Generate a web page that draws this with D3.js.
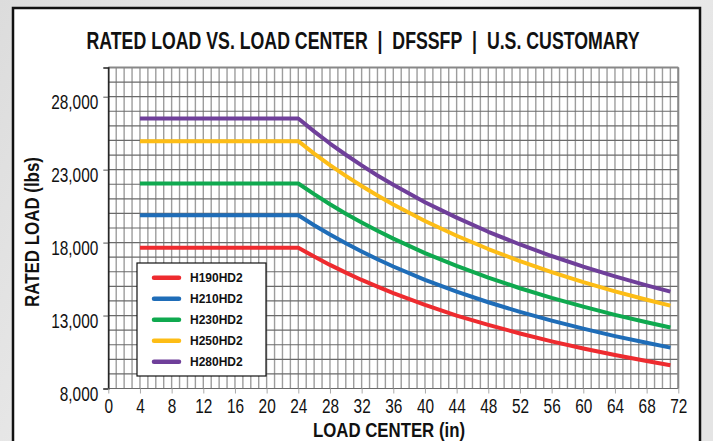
<!DOCTYPE html>
<html>
<head>
<meta charset="utf-8">
<script src="https://cdn.jsdelivr.net/npm/d3@7"></script>
<style>
	body { margin: 0; background: #fff; }
	svg { display: block; }
</style>
</head>
<body>
<div id="chart"></div>
<script>
// load center points (in)
var loadCenter = [4, 24, 26, 28, 30, 32, 34, 36, 40, 44, 48, 52, 56, 60, 64, 68, 71];

// rated load (lbs)
var h190 = [17650, 17650, 17040, 16470, 15940, 15440, 14980, 14540, 13730, 13000, 12360, 11770, 11230, 10740, 10300, 9880, 9600];
var h210 = [19870, 19870, 19190, 18550, 17950, 17390, 16860, 16360, 15450, 14640, 13910, 13250, 12650, 12100, 11590, 11130, 10800];
var h230 = [22050, 22050, 21320, 20630, 19980, 19380, 18810, 18270, 17280, 16400, 15600, 14870, 14210, 13610, 13050, 12540, 12180];
var h250 = [24950, 24950, 24100, 23310, 22570, 21880, 21230, 20610, 19480, 18470, 17560, 16730, 15980, 15290, 14660, 14080, 13680];
var h280 = [26500, 26500, 25620, 24790, 24020, 23290, 22600, 21960, 20770, 19710, 18740, 17870, 17080, 16350, 15680, 15070, 14640];

var seriesNames = ['H190HD2', 'H210HD2', 'H230HD2', 'H250HD2', 'H280HD2'];
var seriesColors = ['#ee2b2f', '#1f6db8', '#0fa94f', '#fdbd16', '#6f3f9a'];
var seriesValues = [h190, h210, h230, h250, h280];

var xTicks = d3.range(0, 73, 4);
var yTicks = [8000, 13000, 18000, 23000, 28000];

var W = 713, H = 441;
var sans = '"Liberation Sans", Arial, Helvetica, sans-serif';

// squeeze a text horizontally so it looks like a condensed face
function condense(sel, k)
{
	sel.each(function() {
		var len = this.getComputedTextLength();
		d3.select(this)
			.attr('textLength', len * k)
			.attr('lengthAdjust', 'spacingAndGlyphs');
	});
}

var svg = d3.select('#chart').append('svg')
	.attr('width', W)
	.attr('height', H);

// grey backdrop + white panel
var defs = svg.append('defs');
var grad = defs.append('linearGradient').attr('id', 'bg')
	.attr('x1', 0).attr('y1', 0).attr('x2', 1).attr('y2', 0.3);
grad.append('stop').attr('offset', '0%').attr('stop-color', '#dcdcdc');
grad.append('stop').attr('offset', '60%').attr('stop-color', '#f2f2f2');
grad.append('stop').attr('offset', '100%').attr('stop-color', '#e4e4e4');

svg.append('rect').attr('width', W).attr('height', H).attr('fill', 'url(#bg)');
svg.append('rect')
	.attr('x', 13).attr('y', 8)
	.attr('width', 687).attr('height', 460)
	.attr('fill', '#fff')
	.attr('stroke', '#111')
	.attr('stroke-width', 2.5);

var x = d3.scaleLinear().domain([0, 72]).range([108.3, 678.3]);
var y = d3.scaleLinear().domain([8000, 30000]).range([388.5, 67.5]);

var g = svg.append('g');

// grid: vertical every inch, horizontal every 1000 lbs
g.selectAll('.vgrid').data(d3.range(0, 73))
	.enter().append('line')
	.attr('class', 'vgrid')
	.attr('x1', function(d) { return x(d); })
	.attr('x2', function(d) { return x(d); })
	.attr('y1', y(30000))
	.attr('y2', y(8000))
	.attr('stroke', '#9d9d9d')
	.attr('stroke-width', 1.4);

g.selectAll('.hgrid').data(d3.range(8000, 30001, 1000))
	.enter().append('line')
	.attr('class', 'hgrid')
	.attr('x1', x(0))
	.attr('x2', x(72))
	.attr('y1', function(d) { return y(d); })
	.attr('y2', function(d) { return y(d); })
	.attr('stroke', '#6a6a6a')
	.attr('stroke-width', 1.2);

// frame of the grid
g.append('line')
	.attr('x1', x(72)).attr('x2', x(72))
	.attr('y1', y(30000)).attr('y2', y(8000))
	.attr('stroke', '#888').attr('stroke-width', 2);
g.append('line')
	.attr('x1', x(0)).attr('x2', x(72))
	.attr('y1', y(30000)).attr('y2', y(30000))
	.attr('stroke', '#888').attr('stroke-width', 2);

// axes
var yAxis = d3.axisLeft(y).tickValues(yTicks).tickSize(5).tickPadding(5)
	.tickFormat(d3.format(','));
var gy = svg.append('g').attr('transform', 'translate(' + x(0) + ',0)').call(yAxis);
gy.select('.domain').attr('stroke', '#222').attr('stroke-width', 1.5);
gy.selectAll('.tick line').attr('stroke', '#555');
gy.selectAll('.tick text')
	.attr('font-family', sans)
	.attr('font-size', 20)
	.attr('fill', '#111')
	.attr('dy', '0.58em');
condense(gy.selectAll('.tick text'), 0.77);

var xAxis = d3.axisBottom(x).tickValues(xTicks).tickSize(5).tickPadding(5);
var gx = svg.append('g').attr('transform', 'translate(0,' + y(8000) + ')').call(xAxis);
gx.select('.domain').remove();
gx.selectAll('.tick line').attr('stroke', '#aaa');
gx.selectAll('.tick text')
	.attr('font-family', sans)
	.attr('font-size', 20)
	.attr('fill', '#111');
condense(gx.selectAll('.tick text'), 0.77);

// curves
var line = d3.line()
	.x(function(d) { return x(d[0]); })
	.y(function(d) { return y(d[1]); });

seriesValues.forEach(function(vals, i) {
	var pts = loadCenter.map(function(lc, j) { return [lc, vals[j]]; });
	svg.append('path')
		.attr('d', line(pts))
		.attr('fill', 'none')
		.attr('stroke', seriesColors[i])
		.attr('stroke-width', 4)
		.attr('stroke-linejoin', 'round');
});

// legend
var lg = svg.append('g').attr('transform', 'translate(137,263)');
lg.append('rect')
	.attr('width', 129).attr('height', 113)
	.attr('fill', '#fff')
	.attr('stroke', '#111')
	.attr('stroke-width', 1.2);
seriesNames.forEach(function(name, i) {
	var yy = 14.7 + i * 21;
	lg.append('line')
		.attr('x1', 17).attr('x2', 42)
		.attr('y1', yy).attr('y2', yy)
		.attr('stroke', seriesColors[i])
		.attr('stroke-width', 4.5)
		.attr('stroke-linecap', 'round');
	lg.append('text')
		.attr('x', 53).attr('y', yy)
		.attr('dy', '0.36em')
		.attr('font-family', sans)
		.attr('font-weight', 'bold')
		.attr('font-size', 12)
		.attr('fill', '#111')
		.text(name);
});

// titles
svg.append('text')
	.attr('x', 363).attr('y', 49)
	.attr('text-anchor', 'middle')
	.attr('font-family', sans)
	.attr('font-weight', 'bold')
	.attr('font-size', 23)
	.attr('textLength', 553)
	.attr('lengthAdjust', 'spacingAndGlyphs')
	.attr('fill', '#111')
	.text('RATED LOAD VS. LOAD CENTER\u00a0\u00a0|\u00a0\u00a0DFSSFP\u00a0\u00a0|\u00a0\u00a0U.S. CUSTOMARY');

svg.append('text')
	.attr('x', 389).attr('y', 437)
	.attr('text-anchor', 'middle')
	.attr('font-family', sans)
	.attr('font-weight', 'bold')
	.attr('font-size', 21)
	.attr('textLength', 152)
	.attr('lengthAdjust', 'spacingAndGlyphs')
	.attr('fill', '#111')
	.text('LOAD CENTER (in)');

svg.append('text')
	.attr('transform', 'translate(39,232) rotate(-90)')
	.attr('text-anchor', 'middle')
	.attr('font-family', sans)
	.attr('font-weight', 'bold')
	.attr('font-size', 20)
	.attr('textLength', 150)
	.attr('lengthAdjust', 'spacingAndGlyphs')
	.attr('fill', '#111')
	.text('RATED LOAD (lbs)');
</script>
</body>
</html>
